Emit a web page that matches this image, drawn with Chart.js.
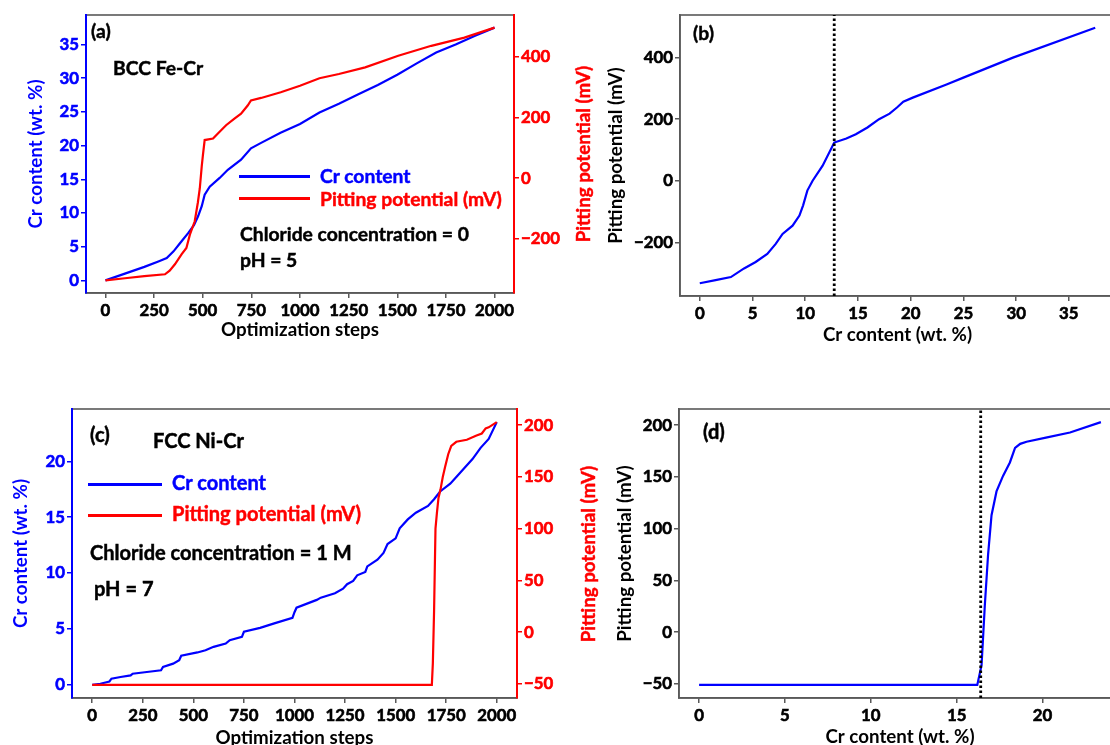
<!DOCTYPE html>
<html>
<head>
<meta charset="utf-8">
<title>Cr content and pitting potential</title>
<script src="https://cdn.jsdelivr.net/npm/chart.js@4.4.0/dist/chart.umd.min.js"></script>
<style>
html,body{margin:0;padding:0;background:#fff;}
body{position:relative;width:1110px;height:745px;overflow:hidden;font-family:Lato,sans-serif;font-weight:700;}
canvas{position:absolute;}
.note{position:absolute;white-space:nowrap;line-height:1;-webkit-text-stroke:0.45px currentColor;}
.key{position:absolute;height:3px;}
.rtitle{position:absolute;white-space:nowrap;line-height:1;-webkit-text-stroke:0.45px currentColor;transform:translate(-50%,-50%) rotate(-90deg);}
</style>
</head>
<body>
<canvas id="chartA" width="620" height="350" style="left:0;top:0"></canvas>
<canvas id="chartB" width="580" height="350" style="left:560px;top:0"></canvas>
<canvas id="chartC" width="620" height="360" style="left:0;top:395px"></canvas>
<canvas id="chartD" width="580" height="360" style="left:560px;top:395px"></canvas>
<script>
const BLUE = '#0000ff', RED = '#ff0000', FRAME = '#595959';

// (a) BCC Fe-Cr, chloride 0, pH 5
const aCrSteps = [0,100,200,272,315,350,383,425,455,476,495,510,536,587,629,697,748,800,900,1000,1100,1200,1300,1400,1500,1600,1700,1800,1900,2000];
const aCrVals  = [0,1.0,2.0,2.8,3.3,4.3,5.5,7.0,8.2,9.5,11.0,12.7,13.9,15.2,16.4,17.9,19.6,20.4,21.9,23.2,24.9,26.2,27.6,29.0,30.5,32.2,33.8,35.0,36.3,37.5];
const aPitSteps = [0,100,200,306,330,357,391,416,434,459,475,485,495,501,510,553,578,620,663,697,731,748,800,901,1000,1100,1200,1335,1505,1675,1845,2000];
const aPitVals  = [-337,-330,-323,-317,-305,-284,-251,-230,-186,-142,-80,-33,40,76,126,131,148,175,197,213,240,257,265,284,305,330,344,366,404,437,464,497];
const aStepTicks = [0,250,500,750,1000,1250,1500,1750,2000];
const aCrTicks = [0,5,10,15,20,25,30,35];
const aPitTicks = [-200,0,200,400];

// (b) pitting potential vs Cr, BCC
const bCrVals  = [0,1.5,2.95,4.2,5.3,6.4,7.2,7.85,8.8,9.45,9.8,10.2,10.7,11.65,12.75,13.9,14.8,15.9,17.0,18.0,18.7,19.3,20.2,23.4,25.0,29.7,37.5];
const bPitVals = [-333,-323,-313,-285,-264,-238,-205,-173,-146,-113,-80,-32,0,49,124,137,151,173,200,218,238,257,270,313,335,400,497];
const bCrTicks = [0,5,10,15,20,25,30,35];
const bPitTicks = [-200,0,200,400];
const bOnset = 12.75;

// (c) FCC Ni-Cr, chloride 1 M, pH 7
const cCrSteps = [0,40,85,95,140,190,200,270,340,350,400,430,440,520,560,600,660,680,740,750,830,900,990,1000,1010,1110,1130,1200,1240,1260,1290,1310,1350,1360,1410,1440,1460,1500,1520,1560,1600,1660,1690,1720,1770,1800,1840,1880,1920,1960,2000];
const cCrVals  = [0,0.1,0.3,0.55,0.7,0.85,1.0,1.15,1.3,1.6,1.9,2.2,2.6,2.9,3.1,3.4,3.7,4.0,4.3,4.75,5.1,5.5,6.0,6.5,6.9,7.6,7.8,8.2,8.6,9.0,9.3,9.8,10.1,10.6,11.2,11.8,12.6,13.1,14.0,14.8,15.4,16.0,16.6,17.3,18.0,18.6,19.4,20.2,21.2,22.0,23.5];
const cPitSteps = [0,1679,1684,1690,1697,1704,1712,1722,1733,1745,1760,1775,1800,1852,1900,1926,1945,1960,2000];
const cPitVals  = [-51,-51,-30,20,100,115,130,138,150,160,172,180,184,186,190,192,197,198,203];
const cStepTicks = [0,250,500,750,1000,1250,1500,1750,2000];
const cCrTicks = [0,5,10,15,20];
const cPitTicks = [-50,0,50,100,150,200];

// (d) pitting potential vs Cr, FCC
const dCrVals  = [0,16.2,16.45,16.64,16.83,17.03,17.32,17.7,18.1,18.4,18.7,19.07,20.2,21.6,23.4];
const dPitVals = [-51,-51,-32,26,75,113,136,151,164,178,182,184,188,193,203];
const dCrTicks = [0,5,10,15,20];
const dPitTicks = [-50,0,50,100,150,200];
const dOnset = 16.4;

// font sizes fitted to the widths measured on the figure
const mctx = document.createElement('canvas').getContext('2d');
function fitSize(text, w){ mctx.font = 'bold 100px Lato'; return 100*w/mctx.measureText(text).width; }
const tickPx = fitSize('2000', 39);
const titlePx = fitSize('Optimization steps', 158);
const noteA = fitSize('Pitting potential (mV)', 182);
const noteC = fitSize('Pitting potential (mV)', 189);

Chart.defaults.font.family = 'Lato';
Chart.defaults.font.weight = 'bold';

const pts = (xs, ys) => xs.map((x, i) => ({x, y: ys[i]}));
const num = v => v < 0 ? '\u2212' + Math.abs(v) : String(v);

const framePlugin = {
    id: 'frame',
    beforeDraw(c){
        const a = c.chartArea, x = c.ctx;
        x.save();
        x.strokeStyle = FRAME; x.lineWidth = 1.6;
        x.strokeRect(a.left, a.top, a.right - a.left, a.bottom - a.top);
        x.restore();
    }
};

function axis(o){
    const horiz = o.pos === 'bottom';
    return {
        type: 'linear', position: o.pos, min: o.min, max: o.max,
        afterBuildTicks: s => { s.ticks = o.ticks.map(v => ({value: v})); },
        afterFit: s => { if(horiz) s.height = o.size; else s.width = o.size; },
        ticks: {color: o.color, font: {size: tickPx, weight: 'bold'}, padding: 2, callback: num, autoSkip: false, maxRotation: 0,
                textStrokeColor: o.color, textStrokeWidth: 0.6},
        grid: {drawOnChartArea: false, drawTicks: true, tickLength: 5, tickColor: o.line, lineWidth: 1.5},
        border: {display: true, color: o.line, width: o.bw || 1.6},
        title: {display: !!o.title, text: o.title, color: o.color, font: {size: titlePx, weight: 'bold', lineHeight: 1}, padding: o.titlePad || 0}
    };
}

function makeChart(id, datasets, scales, pad){
    return new Chart(document.getElementById(id), {
        type: 'line',
        data: {datasets},
        options: {
            responsive: false, animation: false,
            layout: {padding: pad},
            plugins: {legend: {display: false}, tooltip: {enabled: false}},
            elements: {point: {radius: 0}, line: {borderWidth: 2.2, tension: 0}},
            scales
        },
        plugins: [framePlugin]
    });
}

const half = titlePx/2;

makeChart('chartA', [
    {data: pts(aCrSteps, aCrVals), borderColor: BLUE, yAxisID: 'yCr', order: 1},
    {data: pts(aPitSteps, aPitVals), borderColor: RED, yAxisID: 'yPit', order: 0}
], {
    x: axis({pos: 'bottom', min: -100, max: 2100, ticks: aStepTicks, color: '#000', line: FRAME, size: 57, title: 'Optimization steps', titlePad: {bottom: 20 - half}}),
    yCr: axis({pos: 'left', min: -1.875, max: 39.375, ticks: aCrTicks, color: BLUE, line: BLUE, size: 86, bw: 2, title: 'Cr content (wt. %)', titlePad: {top: 36 - half}}),
    yPit: axis({pos: 'right', min: -378.7, max: 538.7, ticks: aPitTicks, color: RED, line: RED, size: 106, bw: 2})
}, {top: 15, left: 0, right: 0, bottom: 0});

makeChart('chartB', [
    {data: pts(bCrVals, bPitVals), borderColor: BLUE, order: 1},
    {data: [{x: bOnset, y: -374.5}, {x: bOnset, y: 538.5}], borderColor: '#000', borderWidth: 2.8, borderDash: [2.5, 2.5], order: 0}
], {
    x: axis({pos: 'bottom', min: -1.875, max: 39.375, ticks: bCrTicks, color: '#000', line: FRAME, size: 54, title: 'Cr content (wt. %)', titlePad: {bottom: 15 - half}}),
    y: axis({pos: 'left', min: -374.5, max: 538.5, ticks: bPitTicks, color: '#000', line: FRAME, size: 120, title: 'Pitting potential (mV)', titlePad: {top: 56 - half}})
}, {top: 15, left: 0, right: 25, bottom: 0});

makeChart('chartC', [
    {data: pts(cCrSteps, cCrVals), borderColor: BLUE, yAxisID: 'yCr', order: 1},
    {data: pts(cPitSteps, cPitVals), borderColor: RED, yAxisID: 'yPit', order: 0}
], {
    x: axis({pos: 'bottom', min: -100, max: 2100, ticks: cStepTicks, color: '#000', line: FRAME, size: 57, title: 'Optimization steps', titlePad: {bottom: 17 - half}}),
    yCr: axis({pos: 'left', min: -1.175, max: 24.675, ticks: cCrTicks, color: BLUE, line: BLUE, size: 72, bw: 2, title: 'Cr content (wt. %)', titlePad: {top: 21 - half}}),
    yPit: axis({pos: 'right', min: -63.7, max: 215.7, ticks: cPitTicks, color: RED, line: RED, size: 103, bw: 2})
}, {top: 14, left: 0, right: 0, bottom: 0});

makeChart('chartD', [
    {data: pts(dCrVals, dPitVals), borderColor: BLUE, order: 1},
    {data: [{x: dOnset, y: -63.7}, {x: dOnset, y: 215.7}], borderColor: '#000', borderWidth: 2.8, borderDash: [2.5, 2.5], order: 0}
], {
    x: axis({pos: 'bottom', min: -1.17, max: 24.57, ticks: dCrTicks, color: '#000', line: FRAME, size: 57, title: 'Cr content (wt. %)', titlePad: {bottom: 18 - half}}),
    y: axis({pos: 'left', min: -63.7, max: 215.7, ticks: dPitTicks, color: '#000', line: FRAME, size: 119, title: 'Pitting potential (mV)', titlePad: {top: 65 - half}})
}, {top: 14, left: 0, right: 19, bottom: 0});

// panel labels, legends and conditions
const notes = [
    ['(a)', 91, 31.5, '#000', noteA],
    ['BCC Fe-Cr', 113, 68, '#000', noteA],
    ['Cr content', 320, 176, BLUE, noteA],
    ['Pitting potential (mV)', 320, 199, RED, noteA],
    ['Chloride concentration = 0', 240, 234, '#000', noteA],
    ['pH = 5', 240, 260, '#000', noteA],
    ['(b)', 693, 33, '#000', noteA],
    ['(c)', 90, 435, '#000', noteC],
    ['FCC Ni-Cr', 153, 441, '#000', noteC],
    ['Cr content', 172, 483, BLUE, noteC],
    ['Pitting potential (mV)', 172, 514, RED, noteC],
    ['Chloride concentration = 1 M', 90, 553, '#000', noteC],
    ['pH = 7', 94, 589, '#000', noteC],
    ['(d)', 703, 432, '#000', noteC]
];
notes.forEach(([t, x, y, c, fs]) => {
    const d = document.createElement('div');
    d.className = 'note'; d.textContent = t;
    d.style.cssText = `left:${x}px;top:${y - 0.53*fs}px;color:${c};font-size:${fs}px`;
    document.body.appendChild(d);
});
const keys = [[239, 310, 176.3, BLUE], [239, 310, 198.5, RED], [88, 162, 484, BLUE], [88, 162, 515, RED]];
keys.forEach(([x0, x1, y, c]) => {
    const d = document.createElement('div');
    d.className = 'key';
    d.style.cssText = `left:${x0}px;width:${x1 - x0}px;top:${y - 1.5}px;background:${c}`;
    document.body.appendChild(d);
});
// right-hand axis titles read bottom to top, as on the figure
[[583, 154], [588, 553.5]].forEach(([x, y]) => {
    const d = document.createElement('div');
    d.className = 'rtitle'; d.textContent = 'Pitting potential (mV)';
    d.style.cssText = `left:${x}px;top:${y}px;color:${RED};font-size:${titlePx}px`;
    document.body.appendChild(d);
});
</script>
</body>
</html>
